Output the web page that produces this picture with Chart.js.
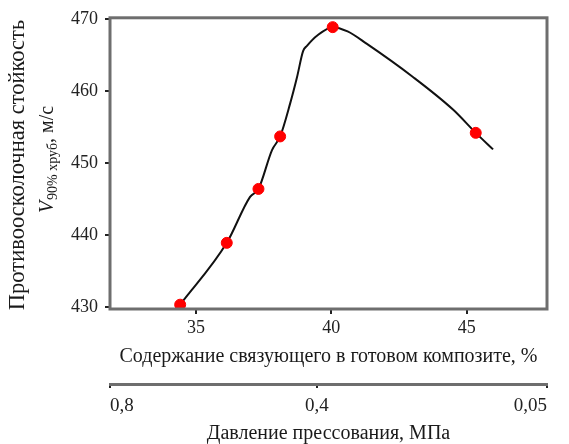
<!DOCTYPE html>
<html lang="ru">
<head>
  <meta charset="UTF-8">
  <title>Противоосколочная стойкость</title>
  <script src="https://cdn.jsdelivr.net/npm/chart.js"></script>
  <style>
    body { margin: 0; background: #fff; }
    #wrap { width: 569px; height: 444px; position: relative; }
  </style>
</head>
<body>
  <div id="wrap"><canvas id="chart"></canvas></div>

  <script>
    // измеренные точки: содержание связующего (%) и V90%
    const contentPoints = [34.42, 36.14, 37.31, 38.11, 40.05, 45.33];
    const resistancePoints = [430.3, 438.9, 446.4, 453.7, 468.9, 454.2];

    // аппроксимирующая кривая
    const curveContent = [34.42, 36.14, 37.0, 37.31, 37.81, 38.11, 38.48, 38.73, 38.96, 39.10, 39.47, 40.05, 40.6, 41.3, 43.0, 44.5, 45.33, 45.97];
    const curveResistance = [430.3, 438.9, 445.3, 446.4, 451.8, 453.7, 458.3, 461.9, 465.6, 466.3, 467.7, 468.9, 468.3, 466.6, 462.0, 457.4, 454.2, 451.9];

    const contentTicks = [35, 40, 45];
    const resistanceTicks = [430, 440, 450, 460, 470];

    // вторая шкала: давление прессования, привязано к содержанию связующего
    const pressureAtContent = [31.83, 39.47, 47.96];
    const pressureLabels = ['0,8', '0,4', '0,05'];

    const xTitle = 'Содержание связующего в готовом композите, %';
    const x2Title = 'Давление прессования, МПа';
    const yTitleLine1 = 'Противоосколочная стойкость';

    const serif = '"Liberation Serif", "Times New Roman", serif';
    const txt = '#222';

    // рамка графика и подпись оси Y с индексом
    const framePlugin = {
      id: 'frame',
      afterDraw(chart) {
        const { ctx, chartArea: a } = chart;
        ctx.save();
        ctx.strokeStyle = '#6e6e6e';
        ctx.lineWidth = 3;
        ctx.strokeRect(a.left, a.top, a.right - a.left, a.bottom - a.top);
        ctx.restore();

        ctx.save();
        ctx.fillStyle = '#1a1a1a';
        ctx.translate(18, 165);
        ctx.rotate(-Math.PI / 2);
        ctx.textAlign = 'center';
        ctx.textBaseline = 'middle';
        ctx.font = '22.5px ' + serif;
        ctx.fillText(yTitleLine1, 0, 0);
        ctx.restore();

        // V 90% хруб, м/с
        const parts = [
          { t: 'V', f: 'italic 20px ' + serif, dy: 0 },
          { t: '90% хруб', f: '14px ' + serif, dy: 4 },
          { t: ', м/с', f: '20px ' + serif, dy: 0 }
        ];
        ctx.save();
        ctx.fillStyle = '#1a1a1a';
        ctx.translate(47, 160);
        ctx.rotate(-Math.PI / 2);
        ctx.textAlign = 'left';
        ctx.textBaseline = 'alphabetic';
        let total = 0;
        parts.forEach(p => { ctx.font = p.f; p.w = ctx.measureText(p.t).width; total += p.w; });
        let x = -total / 2;
        parts.forEach(p => {
          ctx.font = p.f;
          ctx.fillText(p.t, x, 6 + p.dy);
          x += p.w + (p.t === 'V' ? 1 : 0);
        });
        ctx.restore();
      }
    };

    const ctx = document.getElementById('chart').getContext('2d');
    new Chart(ctx, {
      type: 'scatter',
      data: {
        datasets: [
          {
            label: 'Эксперимент',
            data: contentPoints.map((c, i) => ({ x: c, y: resistancePoints[i] })),
            backgroundColor: '#ff0000',
            borderColor: '#ff0000',
            pointRadius: 5.5,
            pointHoverRadius: 5.5
          },
          {
            type: 'line',
            label: 'Кривая',
            data: curveContent.map((c, i) => ({ x: c, y: curveResistance[i] })),
            borderColor: '#111',
            borderWidth: 2,
            pointRadius: 0,
            cubicInterpolationMode: 'monotone',
            fill: false
          }
        ]
      },
      options: {
        responsive: true,
        maintainAspectRatio: false,
        animation: false,
        layout: { padding: { top: 17, right: 22, left: 0, bottom: 0 } },
        plugins: { legend: { display: false }, tooltip: { enabled: false } },
        scales: {
          x: {
            type: 'linear',
            position: 'bottom',
            min: 31.83,
            max: 47.96,
            afterBuildTicks: s => { s.ticks = contentTicks.map(v => ({ value: v })); },
            afterFit: s => { s.height = 75; },
            grid: { drawOnChartArea: false, drawTicks: true, tickLength: 5, color: '#222', lineWidth: 2 },
            border: { display: false },
            ticks: { color: txt, padding: 3, font: { family: serif, size: 18 } },
            title: {
              display: true, text: xTitle, color: '#1a1a1a',
              font: { family: serif, size: 20 }, padding: { top: 0, bottom: 15 }
            }
          },
          x2: {
            type: 'linear',
            position: 'bottom',
            min: 31.83,
            max: 47.96,
            afterBuildTicks: s => { s.ticks = pressureAtContent.map(v => ({ value: v })); },
            afterFit: s => { s.height = 60; },
            grid: { drawOnChartArea: false, drawTicks: true, tickLength: 4, color: '#222', lineWidth: 2 },
            border: { display: true, color: '#6e6e6e', width: 3 },
            ticks: {
              color: txt, padding: 7, align: 'inner',
              font: { family: serif, size: 19 },
              callback: (v, i) => pressureLabels[i]
            },
            title: {
              display: true, text: x2Title, color: '#1a1a1a',
              font: { family: serif, size: 20, lineHeight: 1 }, padding: { top: 0, bottom: 0 }
            }
          },
          y: {
            type: 'linear',
            min: 429.7,
            max: 470.2,
            afterBuildTicks: s => { s.ticks = resistanceTicks.map(v => ({ value: v })); },
            afterFit: s => { s.width = 110; },
            grid: { drawOnChartArea: false, drawTicks: true, tickLength: 5, color: '#222', lineWidth: 2 },
            border: { display: false },
            ticks: { color: txt, padding: 7, font: { family: serif, size: 18 } }
          }
        }
      },
      plugins: [framePlugin]
    });
  </script>
</body>
</html>
